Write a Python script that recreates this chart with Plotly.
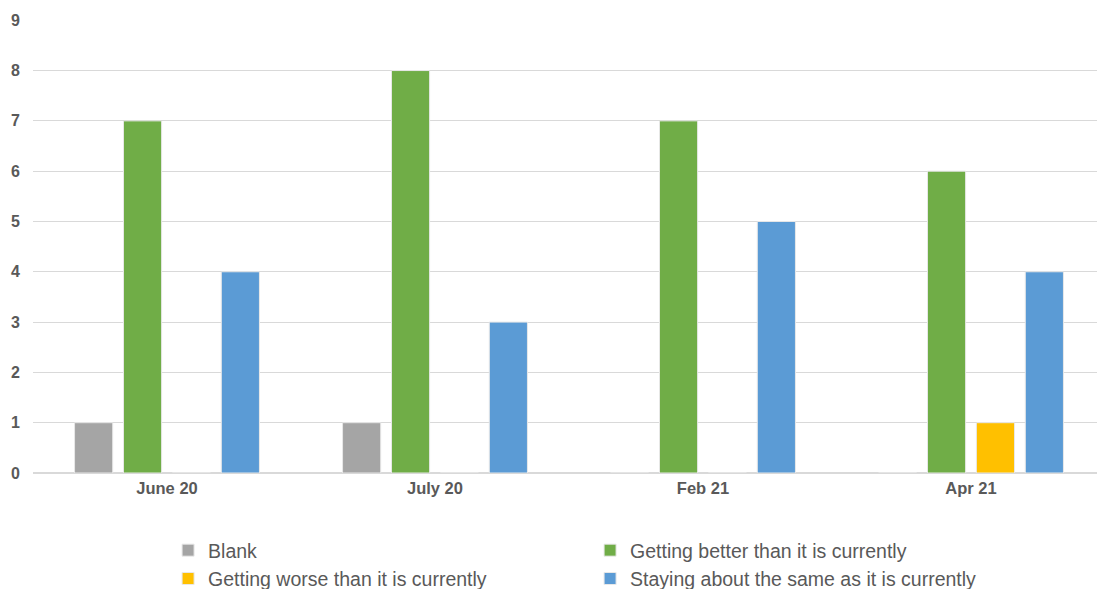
import plotly.graph_objects as go

categories = ["June 20", "July 20", "Feb 21", "Apr 21"]
blank = [1, 1, 0, 0]
better = [7, 8, 7, 6]
worse = [0, 0, 0, 1]
staying = [4, 3, 5, 4]

series = [
    ("Blank", blank, "#A5A5A5"),
    ("Getting better than it is currently", better, "#70AD47"),
    ("Getting worse than it is currently", worse, "#FFC000"),
    ("Staying about the same as it is currently", staying, "#5B9BD5"),
]

FONT = "Liberation Sans, Arial, Helvetica, sans-serif"

fig = go.Figure()
for name, vals, color in series:
    fig.add_trace(go.Bar(
        x=categories, y=vals, name=name,
        marker=dict(color=color, line=dict(color="#E8E8E8", width=1)),
    ))

fig.update_layout(
    width=1097, height=581,
    margin=dict(l=25, r=0, t=12, b=116, autoexpand=False),
    plot_bgcolor="white", paper_bgcolor="white",
    barmode="group", bargap=0.27, bargroupgap=0.22,
    font=dict(family=FONT, color="#595959"),
    showlegend=True,
    legend=dict(
        orientation="h", x=0.126, xanchor="left", y=-0.128, yanchor="top",
        entrywidth=377, entrywidthmode="pixels",
        font=dict(size=19.5, color="#595959", family=FONT),
        itemwidth=30, tracegroupgap=0,
    ),
)
fig.update_xaxes(
    showgrid=False, showline=True, linecolor="#D9D9D9", linewidth=1,
    tickfont=dict(size=16.5, color="#595959", family=FONT, weight="bold"),
    ticks="", automargin=False,
)
fig.update_yaxes(
    range=[0, 9.005], dtick=1, showgrid=True, gridcolor="#D9D9D9", gridwidth=1,
    zeroline=True, zerolinecolor="#D9D9D9",
    tickfont=dict(size=16, color="#595959", family=FONT, weight="bold"),
    ticks="", ticklabelstandoff=12, automargin=False,
)

fig.write_html("out.html")
